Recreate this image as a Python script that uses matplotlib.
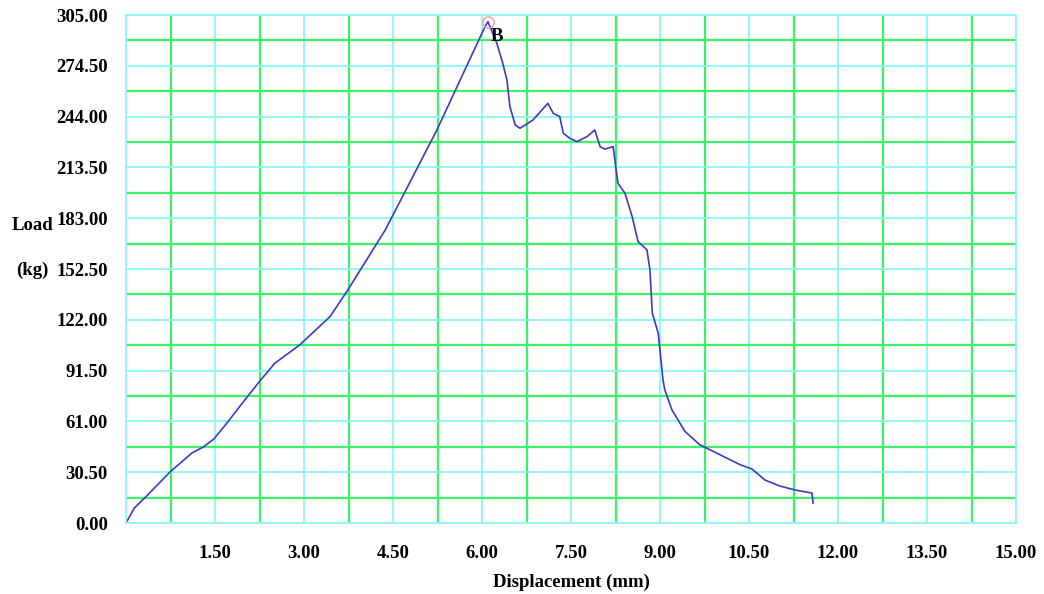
import numpy as np
import matplotlib.pyplot as plt
from matplotlib.ticker import FixedLocator

# load-displacement record
disp = [0.00, 0.14, 0.33, 0.74, 1.11, 1.30, 1.48, 1.70, 2.00, 2.25, 2.51,
        2.93, 3.44, 3.74, 4.37, 5.24, 6.05, 6.10, 6.25, 6.35, 6.42, 6.47,
        6.56, 6.64, 6.86, 7.11, 7.20, 7.31, 7.37, 7.48, 7.60, 7.77, 7.90,
        7.99, 8.07, 8.21, 8.29, 8.41, 8.53, 8.63, 8.78, 8.83, 8.87, 8.97,
        9.05, 9.08, 9.20, 9.42, 9.67, 10.01, 10.35, 10.55, 10.77, 11.02,
        11.28, 11.56, 11.58]
load = [0.0, 9.0, 15.6, 30.6, 42.0, 45.6, 50.4, 60.0, 73.8, 85.0, 96.0,
        107.0, 124.0, 140.0, 176.0, 236.0, 298.0, 301.0, 288.0, 276.0,
        266.0, 250.0, 239.0, 237.0, 242.0, 252.0, 246.0, 244.0, 234.0,
        231.0, 229.0, 232.0, 236.0, 226.0, 224.5, 226.0, 204.0, 198.0,
        184.0, 169.0, 164.0, 152.0, 126.0, 114.0, 86.0, 80.0, 68.0, 55.0,
        47.0, 41.0, 35.0, 32.4, 25.8, 22.2, 19.8, 18.0, 12.0]

peak_x, peak_y = 6.10, 301.0
peak_label = "B"

x_ticks = [1.5 * i for i in range(1, 11)]
y_ticks = [30.5 * i for i in range(0, 11)]

plt.rcParams['font.family'] = 'Liberation Serif'
plt.rcParams['font.weight'] = 'bold'

fig = plt.figure(figsize=(10.44, 5.94), dpi=100)
ax = fig.add_axes([0.1207, 0.1195, 0.8525, 0.8552])

ax.set_xlim(0, 15)
ax.set_ylim(0, 305)

# cyan grid on the labelled ticks, green grid halfway between
ax.xaxis.set_major_locator(FixedLocator(x_ticks))
ax.yaxis.set_major_locator(FixedLocator(y_ticks))
ax.xaxis.set_minor_locator(FixedLocator([0.75 + 1.5 * i for i in range(10)]))
ax.yaxis.set_minor_locator(FixedLocator([15.25 + 30.5 * i for i in range(10)]))
ax.grid(which='major', color='#8af8f8', linewidth=1.3)
ax.grid(which='minor', color='#3cf266', linewidth=1.6)
ax.set_axisbelow(True)

ax.set_xticklabels([f"{v:.2f}" for v in x_ticks])
ax.set_yticklabels([f"{v:.2f}" for v in y_ticks])
ax.tick_params(which='both', length=0, labelsize=13.5)
ax.tick_params(axis='x', pad=16)
ax.tick_params(axis='y', pad=13)

for sp in ax.spines.values():
    sp.set_color('#8af8f8')
    sp.set_linewidth(1.3)

ax.plot(disp, load, color='#3a3ac8', linewidth=1.2)
ax.plot([peak_x], [peak_y], marker='o', markersize=8, markerfacecolor='none',
        markeredgecolor='#ff8fb0', markeredgewidth=1)
ax.text(peak_x + 0.05, peak_y - 4, peak_label, fontsize=13.5, fontweight='bold',
        ha='left', va='top')

ax.set_xlabel("Displacement (mm)", fontsize=13.5, fontweight='bold', labelpad=8)
fig.text(0.0115, 0.621, "Load", fontsize=13.5, fontweight='bold', ha='left', va='center')
fig.text(0.0153, 0.5455, "(kg)", fontsize=13.5, fontweight='bold', ha='left', va='center')

fig.savefig("out.png", dpi=100)
